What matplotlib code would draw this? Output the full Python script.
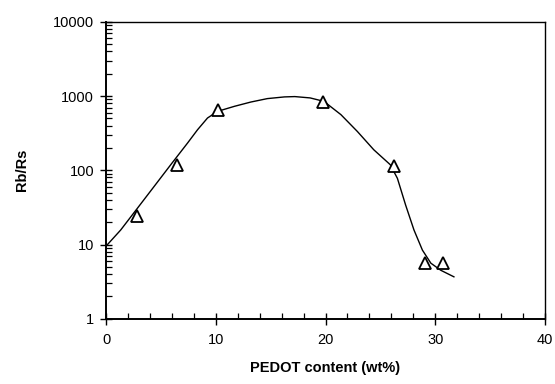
import matplotlib
matplotlib.use("Agg")
import matplotlib.pyplot as plt
from matplotlib.ticker import FixedLocator, FuncFormatter, LogLocator, MultipleLocator

plt.rcParams['font.family'] = ['Liberation Sans', 'DejaVu Sans']

# measured points (triangles)
pedot_wt = [2.8, 6.5, 10.2, 19.8, 26.2, 29.07, 30.66]
rb_rs = [24.3, 119, 657, 824, 115, 5.7, 5.7]

# guide curve
curve_x = [0.0, 1.34, 2.86, 4.38, 5.9, 7.43, 8.34, 9.25, 10.17, 11.7, 13.2,
           14.7, 16.26, 17.2, 18.6, 19.85, 21.4, 22.9, 24.4, 25.9, 26.55,
           27.3, 28.06, 28.83, 29.6, 30.5, 31.7]
curve_y = [9.5, 15.7, 30.8, 60.5, 119, 233, 352, 507, 623, 728, 832,
           925, 975, 985, 945, 850, 563, 334, 189, 119, 78,
           34, 15.7, 8.4, 5.6, 4.5, 3.67]

xticks = [0, 10, 20, 30, 40]
yticks = [1, 10, 100, 1000, 10000]

fig = plt.figure(figsize=(5.55, 3.84), dpi=100)
ax = fig.add_axes([0.191, 0.170, 0.791, 0.773])

ax.plot(curve_x, curve_y, color='black', lw=1.0, zorder=2,
        solid_joinstyle='round')
ax.plot(pedot_wt, rb_rs, linestyle='none', marker='^', ms=9, mfc='white',
        mec='black', mew=1.3, zorder=3)

ax.set_yscale('log')
ax.set_xlim(0, 40)
ax.set_ylim(1, 10000)
ax.xaxis.set_major_locator(FixedLocator(xticks))
ax.xaxis.set_minor_locator(MultipleLocator(2))
ax.yaxis.set_major_locator(FixedLocator(yticks))
ax.yaxis.set_minor_locator(LogLocator(base=10, subs=range(2, 10)))
ax.yaxis.set_major_formatter(FuncFormatter(lambda v, p: f"{int(round(v))}"))
ax.yaxis.set_minor_formatter(FuncFormatter(lambda v, p: ""))

ax.tick_params(which='major', direction='inout', length=9, width=1.0,
               labelsize=10.5, pad=4)
ax.tick_params(which='minor', direction='in', length=4, width=0.9)
ax.tick_params(axis='x', which='major', pad=6)
ax.tick_params(top=False, right=False, which='both')

for s in ['left', 'bottom']:
    ax.spines[s].set_linewidth(1.4)
for s in ['top', 'right']:
    ax.spines[s].set_linewidth(1.0)

ax.set_xlabel('PEDOT content (wt%)', fontsize=10.5, fontweight='bold', labelpad=10)
ax.set_ylabel('Rb/Rs', fontsize=10.5, fontweight='bold', labelpad=17)

fig.savefig('out.png', dpi=100)
